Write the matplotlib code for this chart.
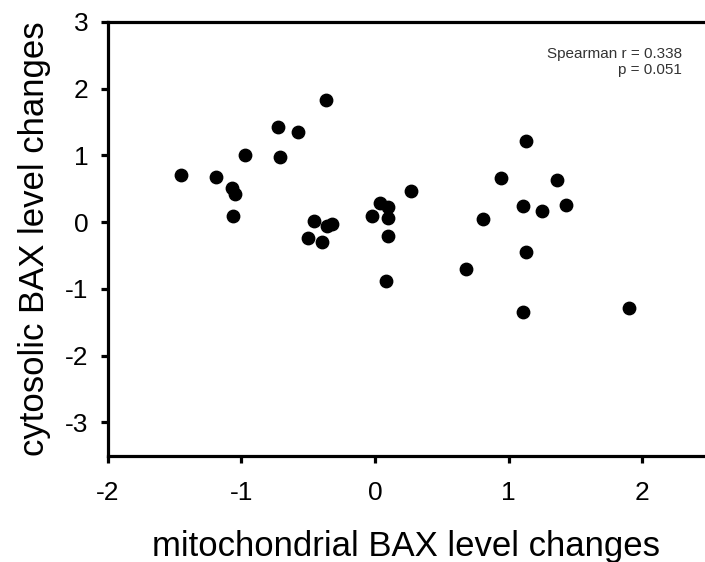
import matplotlib.pyplot as plt

plt.rcParams['font.family'] = ['Liberation Sans', 'DejaVu Sans']

# mitochondrial vs cytosolic BAX level changes
mito = [-1.45, -1.19, -1.07, -1.05, -1.06, -0.97, -0.73, -0.71, -0.58, -0.37,
        -0.46, -0.50, -0.40, -0.36, -0.32,
        -0.02, 0.04, 0.10, 0.10, 0.10, 0.27, 0.08, 0.68, 0.81, 0.94,
        1.13, 1.11, 1.25, 1.36, 1.43, 1.13, 1.11, 1.90]
cyto = [0.71, 0.67, 0.51, 0.42, 0.09, 1.00, 1.43, 0.98, 1.35, 1.83,
        0.01, -0.23, -0.30, -0.05, -0.03,
        0.09, 0.28, 0.22, 0.06, -0.20, 0.46, -0.88, -0.70, 0.04, 0.66,
        1.22, 0.24, 0.17, 0.63, 0.26, -0.45, -1.35, -1.29]

xticks = [-2, -1, 0, 1, 2]
yticks = [-3, -2, -1, 0, 1, 2, 3]

fig = plt.figure(figsize=(7.05, 5.62), dpi=100)
ax = fig.add_axes([0.153, 0.189, 0.847, 0.772])

ax.scatter(mito, cyto, s=80, color='black', zorder=3)

ax.set_xlim(-2, 2.47)
ax.set_ylim(-3.5, 3)
ax.set_xticks(xticks)
ax.set_yticks(yticks)
ax.set_xticklabels([str(t) for t in xticks])
ax.set_yticklabels([str(t) for t in yticks])

for side in ['left', 'bottom', 'top']:
    ax.spines[side].set_linewidth(2.3)
ax.spines['right'].set_visible(False)
ax.tick_params(direction='out', length=5, width=2.3, labelsize=19, pad=9)
ax.tick_params(axis='x', pad=13)

ax.set_xlabel('mitochondrial BAX level changes', fontsize=25, labelpad=18)
ax.set_ylabel('cytosolic BAX level changes', fontsize=25, labelpad=10)

ax.text(0.961, 0.943, 'Spearman r = 0.338\np = 0.051', transform=ax.transAxes,
        ha='right', va='top', fontsize=11,
        family=['Liberation Sans Narrow', 'Liberation Sans'],
        color='#333333', linespacing=1.25)

fig.savefig('out.png', dpi=100)
